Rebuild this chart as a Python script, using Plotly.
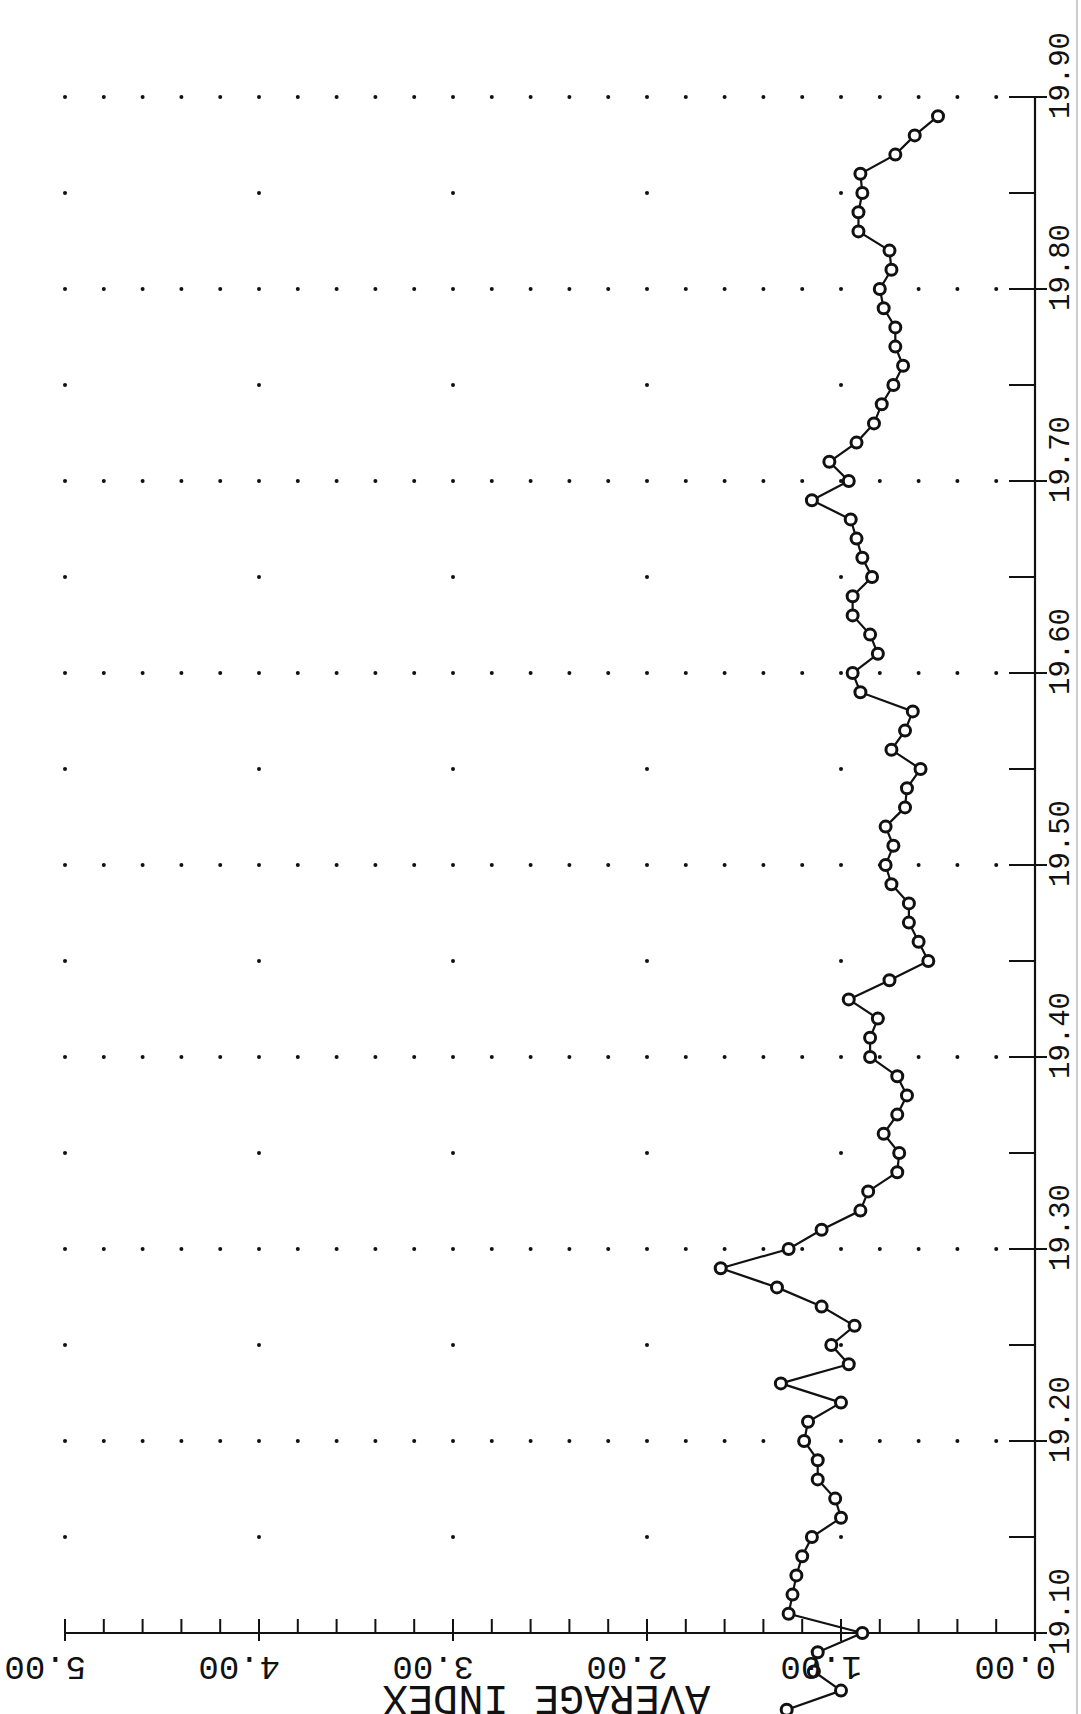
import plotly.graph_objects as go

# ---------------- data ----------------
years = list(range(1906, 1990))
index_values = [
    1.28, 1.00, 1.14, 1.12, 0.89, 1.27, 1.25, 1.23, 1.20, 1.15,   # 1906-1915
    1.00, 1.03, 1.12, 1.12, 1.19, 1.17, 1.00, 1.31, 0.96, 1.05,   # 1916-1925
    0.93, 1.10, 1.33, 1.62, 1.27, 1.10, 0.90, 0.86, 0.71, 0.70,   # 1926-1935
    0.78, 0.71, 0.66, 0.71, 0.85, 0.85, 0.81, 0.96, 0.75, 0.55,   # 1936-1945
    0.60, 0.65, 0.65, 0.74, 0.77, 0.73, 0.77, 0.67, 0.66, 0.59,   # 1946-1955
    0.74, 0.67, 0.63, 0.90, 0.94, 0.81, 0.85, 0.94, 0.94, 0.84,   # 1956-1965
    0.89, 0.92, 0.95, 1.15, 0.96, 1.06, 0.92, 0.83, 0.79, 0.73,   # 1966-1975
    0.68, 0.72, 0.72, 0.78, 0.80, 0.74, 0.75, 0.91, 0.91, 0.89,   # 1976-1985
    0.90, 0.72, 0.62, 0.50,                                       # 1986-1989
]
year_ticks = [1910, 1920, 1930, 1940, 1950, 1960, 1970, 1980, 1990]
year_tick_labels = ["19.10", "19.20", "19.30", "19.40", "19.50",
                    "19.60", "19.70", "19.80", "19.90"]
year_minor_ticks = [1915, 1925, 1935, 1945, 1955, 1965, 1975, 1985]
value_ticks = [0, 1, 2, 3, 4, 5]
value_tick_labels = ["0.00", "1.00", "2.00", "3.00", "4.00", "5.00"]
value_minor_ticks = [round(0.2 * k, 1) for k in range(1, 25) if k % 5 != 0]
axis_title = "AVERAGE INDEX"

# ---------------- geometry (pixel scale) ----------------
W, H = 1081, 1714
PX_PER_UNIT = 194.0       # horizontal px per index unit
PX_PER_YEAR = 19.2        # vertical px per year
X_ZERO = 1035.0           # pixel x of index 0
Y_1910 = 1633.0           # pixel y of year 1910

x_r0 = X_ZERO / PX_PER_UNIT
x_r1 = x_r0 - W / PX_PER_UNIT
y_top = 1910 + Y_1910 / PX_PER_YEAR
y_bot = y_top - H / PX_PER_YEAR

def dx(px):
    return px / PX_PER_UNIT

def dy(px):
    return px / PX_PER_YEAR

INK = "#111111"
FONT = "Liberation Mono"

fig = go.Figure()

# ---------------- dotted grid ----------------
gx, gy = [], []
for yr in year_ticks[1:]:
    for k in range(1, 26):
        gx.append(round(0.2 * k, 1)); gy.append(yr)
for yr in year_minor_ticks:
    for v in value_ticks[1:]:
        gx.append(v); gy.append(yr)
fig.add_trace(go.Scatter(x=gx, y=gy, mode="markers",
                         marker=dict(size=4, color=INK), hoverinfo="skip"))

# ---------------- axes (drawn lines) ----------------
def seg_trace(xs, ys, width):
    fig.add_trace(go.Scatter(x=xs, y=ys, mode="lines",
                             line=dict(color=INK, width=width), hoverinfo="skip"))

# value axis line
seg_trace([5, -dx(12)], [1910, 1910], 2.2)
# year axis line
seg_trace([0, 0], [1910 - dy(7), 1990], 2.2)

# value-axis ticks
tx, ty = [], []
for v in value_ticks:
    tx += [v, v, None]; ty += [1910 + dy(14), 1910 - dy(8), None]
for v in value_minor_ticks:
    tx += [v, v, None]; ty += [1910 + dy(14), 1910, None]
# year-axis ticks
for yr in year_ticks[1:]:
    tx += [dx(26), -dx(12), None]; ty += [yr, yr, None]
for yr in year_minor_ticks:
    tx += [dx(26), 0, None]; ty += [yr, yr, None]
seg_trace(tx, ty, 2)

# paper edge artefact on the right
fig.add_trace(go.Scatter(x=[-dx(42), -dx(42)], y=[y_top, y_bot], mode="lines",
                         line=dict(color="#9a9a9a", width=1), hoverinfo="skip"))

# ---------------- data series ----------------
fig.add_trace(go.Scatter(
    x=index_values, y=years, mode="lines+markers",
    line=dict(color=INK, width=2.2),
    marker=dict(symbol="circle", size=11, color="white",
                line=dict(color=INK, width=3)),
    hoverinfo="skip"))

# ---------------- labels ----------------
ann = []
for yr, lab in zip(year_ticks, year_tick_labels):
    ann.append(dict(x=0, y=yr, xref="x", yref="y", xshift=26, yshift=21,
                    text=lab, showarrow=False, textangle=-90,
                    font=dict(family=FONT, size=29, color=INK)))
for v, lab in zip(value_ticks, value_tick_labels):
    ann.append(dict(x=v, y=1910, xref="x", yref="y", xshift=-20, yshift=-33,
                    text=lab, showarrow=False, textangle=180,
                    font=dict(family=FONT, size=34, color=INK)))
ann.append(dict(x=2.52, y=1910, xref="x", yref="y", yshift=-64,
                text=axis_title, showarrow=False, textangle=180,
                font=dict(family=FONT, size=42, color=INK)))

fig.update_layout(
    width=W, height=H, margin=dict(l=0, r=0, t=0, b=0),
    paper_bgcolor="white", plot_bgcolor="white", showlegend=False,
    xaxis=dict(range=[x_r0, x_r1], visible=False, fixedrange=True),
    yaxis=dict(range=[y_bot, y_top], visible=False, fixedrange=True),
    annotations=ann,
)

fig.write_html("out.html")
